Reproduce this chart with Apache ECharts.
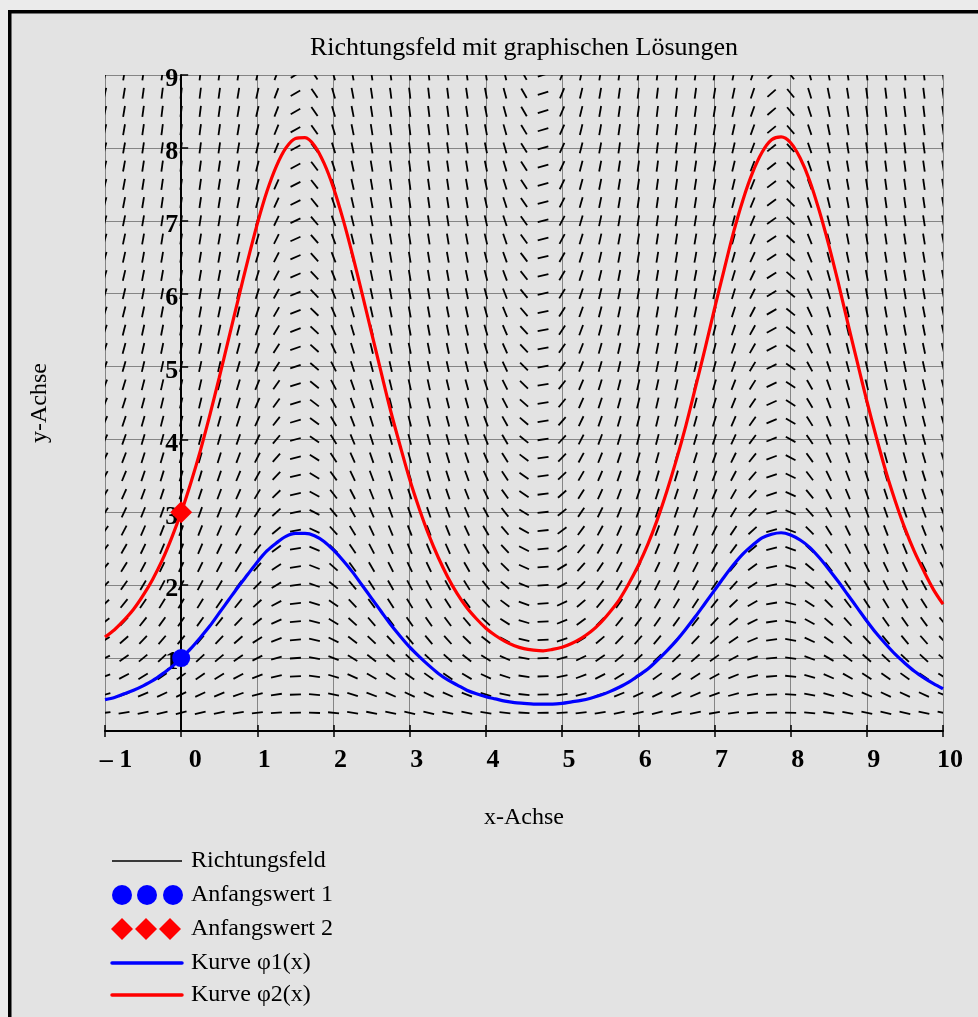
<!DOCTYPE html>
<html>
<head>
<meta charset="utf-8">
<title>Richtungsfeld mit graphischen Lösungen</title>
<script src="https://cdn.jsdelivr.net/npm/echarts@6/dist/echarts.min.js"></script>
<style>
  html, body { margin: 0; padding: 0; background: #ebebeb; }
  #chart { width: 978px; height: 1017px; }
</style>
</head>
<body>
<div id="chart"></div>
<script>
// Grid of the direction field
const gridX = [-1, -0.75, -0.5, -0.25, 0, 0.25, 0.5, 0.75, 1, 1.25, 1.5, 1.75, 2, 2.25, 2.5, 2.75,
  3, 3.25, 3.5, 3.75, 4, 4.25, 4.5, 4.75, 5, 5.25, 5.5, 5.75, 6, 6.25, 6.5, 6.75, 7, 7.25, 7.5, 7.75,
  8, 8.25, 8.5, 8.75, 9, 9.25, 9.5, 9.75, 10];
const gridY = [0, 0.25, 0.5, 0.75, 1, 1.25, 1.5, 1.75, 2, 2.25, 2.5, 2.75, 3, 3.25, 3.5, 3.75,
  4, 4.25, 4.5, 4.75, 5, 5.25, 5.5, 5.75, 6, 6.25, 6.5, 6.75, 7, 7.25, 7.5, 7.75, 8, 8.25, 8.5, 8.75, 9];

// Slope factor of each field column: y' = factor * y
const slopeFactor = [0.540, 0.732, 0.878, 0.969, 1.000, 0.969, 0.878, 0.732, 0.540, 0.315, 0.071, -0.178,
  -0.416, -0.628, -0.801, -0.924, -0.990, -0.994, -0.936, -0.820, -0.654, -0.446, -0.211, 0.038,
  0.284, 0.512, 0.709, 0.861, 0.960, 1.000, 0.977, 0.894, 0.754, 0.567, 0.347, 0.105,
  -0.146, -0.386, -0.602, -0.781, -0.911, -0.986, -0.997, -0.949, -0.839];

// Sample points of the solution curves
const curveX = [-1, -0.875, -0.75, -0.625, -0.5, -0.375, -0.25, -0.125,
  0, 0.125, 0.25, 0.375, 0.5, 0.625, 0.75, 0.875,
  1, 1.125, 1.25, 1.375, 1.5, 1.625, 1.75, 1.875,
  2, 2.125, 2.25, 2.375, 2.5, 2.625, 2.75, 2.875,
  3, 3.125, 3.25, 3.375, 3.5, 3.625, 3.75, 3.875,
  4, 4.125, 4.25, 4.375, 4.5, 4.625, 4.75, 4.875,
  5, 5.125, 5.25, 5.375, 5.5, 5.625, 5.75, 5.875,
  6, 6.125, 6.25, 6.375, 6.5, 6.625, 6.75, 6.875,
  7, 7.125, 7.25, 7.375, 7.5, 7.625, 7.75, 7.875,
  8, 8.125, 8.25, 8.375, 8.5, 8.625, 8.75, 8.875,
  9, 9.125, 9.25, 9.375, 9.5, 9.625, 9.75, 9.875, 10];
const phi1 = [0.43, 0.46, 0.51, 0.56, 0.62, 0.69, 0.78, 0.88,
  1.00, 1.13, 1.28, 1.44, 1.62, 1.80, 1.98, 2.15,
  2.32, 2.47, 2.58, 2.67, 2.71, 2.71, 2.68, 2.60,
  2.48, 2.34, 2.18, 2.00, 1.82, 1.64, 1.46, 1.30,
  1.15, 1.02, 0.90, 0.79, 0.70, 0.63, 0.56, 0.51,
  0.47, 0.44, 0.41, 0.39, 0.38, 0.37, 0.37, 0.37,
  0.38, 0.40, 0.42, 0.45, 0.49, 0.54, 0.60, 0.67,
  0.76, 0.85, 0.97, 1.10, 1.24, 1.40, 1.57, 1.75,
  1.93, 2.11, 2.28, 2.43, 2.55, 2.65, 2.70, 2.72,
  2.69, 2.62, 2.52, 2.38, 2.22, 2.05, 1.87, 1.69,
  1.51, 1.34, 1.19, 1.05, 0.93, 0.82, 0.73, 0.65, 0.58];
const phi2 = [1.29, 1.39, 1.52, 1.67, 1.86, 2.08, 2.34, 2.65,
  3.00, 3.40, 3.84, 4.33, 4.85, 5.39, 5.93, 6.46,
  6.96, 7.40, 7.75, 8.00, 8.13, 8.14, 8.03, 7.79,
  7.45, 7.02, 6.53, 6.00, 5.46, 4.92, 4.39, 3.91,
  3.45, 3.05, 2.69, 2.38, 2.11, 1.88, 1.69, 1.54,
  1.41, 1.31, 1.23, 1.17, 1.13, 1.11, 1.10, 1.12,
  1.15, 1.20, 1.27, 1.36, 1.48, 1.63, 1.80, 2.02,
  2.27, 2.56, 2.90, 3.29, 3.72, 4.19, 4.71, 5.24,
  5.79, 6.32, 6.84, 7.29, 7.66, 7.94, 8.11, 8.15,
  8.07, 7.86, 7.55, 7.14, 6.67, 6.15, 5.60, 5.06,
  4.53, 4.03, 3.56, 3.15, 2.78, 2.46, 2.19, 1.94, 1.74];

// Initial values
const start1 = [0, 1];
const start2 = [0, 3];

const legendNames = ['Richtungsfeld', 'Anfangswert 1', 'Anfangswert 2', 'Kurve \u03c61(x)', 'Kurve \u03c62(x)'];

const SERIF = "'Liberation Serif', 'Times New Roman', serif";

const fieldData = [];
gridX.forEach((x, i) => {
  gridY.forEach(y => fieldData.push([x, y, slopeFactor[i] * y]));
});

const curve1 = curveX.map((x, i) => [x, phi1[i]]);
const curve2 = curveX.map((x, i) => [x, phi2[i]]);

const chart = echarts.init(document.getElementById('chart'), null, { renderer: 'canvas' });

const tickFont = { fontFamily: SERIF, fontSize: 26, fontWeight: 'bold', color: '#000' };

// plot area
const GL = 105, GR = 35, GT = 75, GB = 286;
const plotW = 978 - GL - GR;
const xMin = -1, xMax = 10;
// horizontal pixel distance from the left edge to x = 0
const yAxisShift = plotW * (0 - xMin) / (xMax - xMin);

// Legend block at the bottom left
const LX0 = 112, LX1 = 182, LTX = 191;
const rows = [861, 895, 929, 963, 995];
const legendGraphics = [
  { type: 'line', shape: { x1: LX0, y1: rows[0], x2: LX1, y2: rows[0] }, style: { stroke: '#000', lineWidth: 1.6 } },
  { type: 'circle', shape: { cx: 122, cy: rows[1], r: 10 }, style: { fill: '#0000ff' } },
  { type: 'circle', shape: { cx: 147, cy: rows[1], r: 10 }, style: { fill: '#0000ff' } },
  { type: 'circle', shape: { cx: 173, cy: rows[1], r: 10 }, style: { fill: '#0000ff' } },
  { type: 'line', shape: { x1: LX0, y1: rows[3], x2: LX1, y2: rows[3] }, style: { stroke: '#0000ff', lineWidth: 3.5, lineCap: 'round' } },
  { type: 'line', shape: { x1: LX0, y1: rows[4], x2: LX1, y2: rows[4] }, style: { stroke: '#ff0000', lineWidth: 3.5, lineCap: 'round' } }
];
[122, 146, 170].forEach(cx => {
  legendGraphics.push({
    type: 'polygon',
    shape: { points: [[cx, rows[2] - 11], [cx + 11, rows[2]], [cx, rows[2] + 11], [cx - 11, rows[2]]] },
    style: { fill: '#ff0000' }
  });
});
legendNames.forEach((name, i) => {
  legendGraphics.push({
    type: 'text', x: LTX, y: rows[i],
    style: { text: name, fontFamily: SERIF, fontSize: 24, fill: '#000', textVerticalAlign: 'middle', textAlign: 'left' }
  });
});

// Frame of the panel
const frameGraphics = [
  { type: 'rect', shape: { x: 0, y: 0, width: 978, height: 10 }, style: { fill: '#ebebeb' }, z: 100 },
  { type: 'rect', shape: { x: 0, y: 0, width: 8, height: 1017 }, style: { fill: '#ebebeb' }, z: 100 },
  { type: 'rect', shape: { x: 8, y: 10, width: 970, height: 3.5 }, style: { fill: '#000' }, z: 101 },
  { type: 'rect', shape: { x: 8, y: 10, width: 3.5, height: 1007 }, style: { fill: '#000' }, z: 101 }
];

const option = {
  animation: false,
  backgroundColor: '#e3e3e3',
  title: {
    text: 'Richtungsfeld mit graphischen Lösungen',
    left: 519, top: 30, textAlign: 'center',
    textStyle: { fontFamily: SERIF, fontSize: 26, fontWeight: 'normal', color: '#000' }
  },
  grid: { left: GL, right: GR, top: GT, bottom: GB, outerBoundsMode: 'none', containLabel: false },
  xAxis: [
    {
      type: 'value', min: xMin, max: xMax, interval: 1, position: 'bottom',
      name: 'x-Achse', nameLocation: 'middle', nameGap: 75,
      nameTextStyle: { fontFamily: SERIF, fontSize: 24, color: '#000' },
      axisLine: { show: true, onZero: false, lineStyle: { color: '#000', width: 2 } },
      axisTick: { show: true, inside: false, length: 6, lineStyle: { color: '#000', width: 1.5 } },
      axisLabel: {
        margin: 16, showMinLabel: true, showMaxLabel: true,
        formatter: v => v === -1 ? '{n|\u2013 1}' : (v === 0 ? '{z|0}' : '{d|' + v + '}'),
        rich: {
          d: Object.assign({ padding: [0, 0, 0, 14] }, tickFont),
          z: Object.assign({ padding: [0, 0, 0, 28] }, tickFont),
          n: Object.assign({ padding: [0, 0, 0, 22] }, tickFont)
        }
      },
      splitLine: { show: true, lineStyle: { color: '#858585', width: 1 } }
    },
    {
      type: 'value', min: xMin, max: xMax, interval: 1, position: 'bottom',
      axisLine: { show: false, onZero: false },
      axisTick: { show: true, inside: true, length: 6, lineStyle: { color: '#000', width: 1.5 } },
      axisLabel: { show: false },
      splitLine: { show: false }
    }
  ],
  yAxis: {
    type: 'value', min: 0, max: 9, interval: 1, position: 'left', offset: -yAxisShift,
    name: 'y-Achse', nameLocation: 'middle', nameRotate: 90, nameGap: 129,
    nameTextStyle: { fontFamily: SERIF, fontSize: 24, color: '#000' },
    axisLine: { show: true, onZero: false, lineStyle: { color: '#000', width: 2 } },
    axisTick: { show: true, inside: true, length: 7, lineStyle: { color: '#000', width: 1.5 } },
    axisLabel: {
      margin: 3, showMaxLabel: true,
      formatter: v => v === 0 ? '' : '{d|' + v + '}',
      rich: { d: Object.assign({ padding: [9, 0, 0, 0] }, tickFont) }
    },
    splitLine: { show: true, lineStyle: { color: '#858585', width: 1 } }
  },
  graphic: legendGraphics.concat(frameGraphics),
  series: [
    {
      name: 'Richtungsfeld',
      type: 'custom',
      xAxisIndex: 0,
      silent: true,
      clip: true,
      z: 2,
      data: fieldData,
      renderItem: function (params, api) {
        const x = api.value(0), y = api.value(1), m = api.value(2);
        const c = api.coord([x, y]);
        const d = api.coord([x + 1, y + m]);
        let dx = d[0] - c[0], dy = d[1] - c[1];
        const len = Math.sqrt(dx * dx + dy * dy);
        const half = 5.5;
        dx = dx / len * half;
        dy = dy / len * half;
        return {
          type: 'line',
          shape: { x1: c[0] - dx, y1: c[1] - dy, x2: c[0] + dx, y2: c[1] + dy },
          style: { stroke: '#000', lineWidth: 1.8 }
        };
      }
    },
    {
      name: 'Kurve \u03c61(x)',
      type: 'line', xAxisIndex: 0, data: curve1, smooth: 0.3, showSymbol: false, silent: true, z: 4,
      lineStyle: { color: '#0000ff', width: 3.2 }
    },
    {
      name: 'Kurve \u03c62(x)',
      type: 'line', xAxisIndex: 0, data: curve2, smooth: 0.3, showSymbol: false, silent: true, z: 4,
      lineStyle: { color: '#ff0000', width: 3.2 }
    },
    {
      name: 'Anfangswert 1',
      type: 'scatter', xAxisIndex: 0, data: [start1], symbol: 'circle', symbolSize: 18, silent: true, z: 5,
      itemStyle: { color: '#0000ff', opacity: 1 }
    },
    {
      name: 'Anfangswert 2',
      type: 'scatter', xAxisIndex: 0, data: [start2], symbol: 'diamond', symbolSize: 22, silent: true, z: 5,
      itemStyle: { color: '#ff0000', opacity: 1 }
    }
  ]
};

chart.setOption(option);
</script>
</body>
</html>
